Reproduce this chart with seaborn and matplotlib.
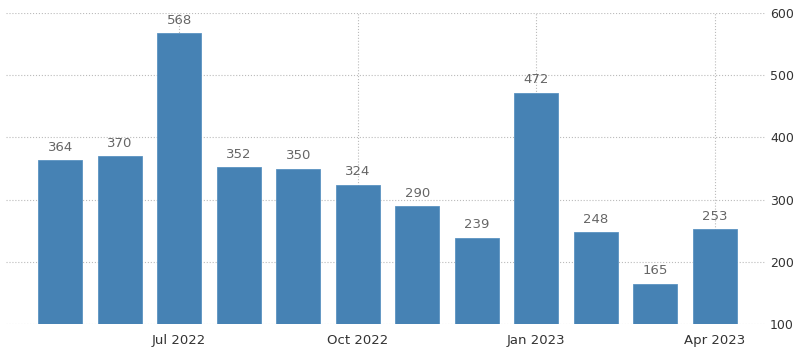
import pandas as pd
import seaborn as sns
from matplotlib import pyplot as plt

months = ["May 2022", "Jun 2022", "Jul 2022", "Aug 2022", "Sep 2022", "Oct 2022",
          "Nov 2022", "Dec 2022", "Jan 2023", "Feb 2023", "Mar 2023", "Apr 2023"]
values = [364, 370, 568, 352, 350, 324, 290, 239, 472, 248, 165, 253]
tick_labels = ["Jul 2022", "Oct 2022", "Jan 2023", "Apr 2023"]
y_ticks = [100, 200, 300, 400, 500, 600]

data = pd.DataFrame({"month": months, "value": values})

sns.set_style("white")
plt.rcParams["font.family"] = ["DejaVu Sans"]

fig = plt.figure(figsize=(8, 3.52), dpi=100)
ax = fig.add_axes([0.0075, 0.0795, 0.95, 0.8835])

sns.barplot(data, x="month", y="value", color="#4682b4", saturation=1, width=0.74,
            edgecolor="#5b93c2", linewidth=0.6, ax=ax, zorder=3)

for i, v in enumerate(values):
    ax.text(i, v + 10, str(v), ha="center", va="bottom", fontsize=9.5, color="#666666", zorder=4)

ax.set_ylim(100, 600)
ax.set_xlim(-0.91, 11.86)
ax.set_yticks(y_ticks)
ax.yaxis.tick_right()
ax.tick_params(axis="y", length=0, labelsize=9, labelcolor="#333333", pad=3)

pos = [months.index(t) for t in tick_labels]
ax.set_xticks(pos)
ax.set_xticklabels(tick_labels)
ax.tick_params(axis="x", length=4, color="#cccccc", labelsize=9.5, labelcolor="#333333", pad=3)

ax.grid(axis="both", linestyle=":", color="#bbbbbb", linewidth=0.8, zorder=0)
ax.set_axisbelow(True)
for s in ax.spines.values():
    s.set_visible(False)
ax.set_xlabel(None)
ax.set_ylabel(None)

plt.savefig("out.png", dpi=100)
